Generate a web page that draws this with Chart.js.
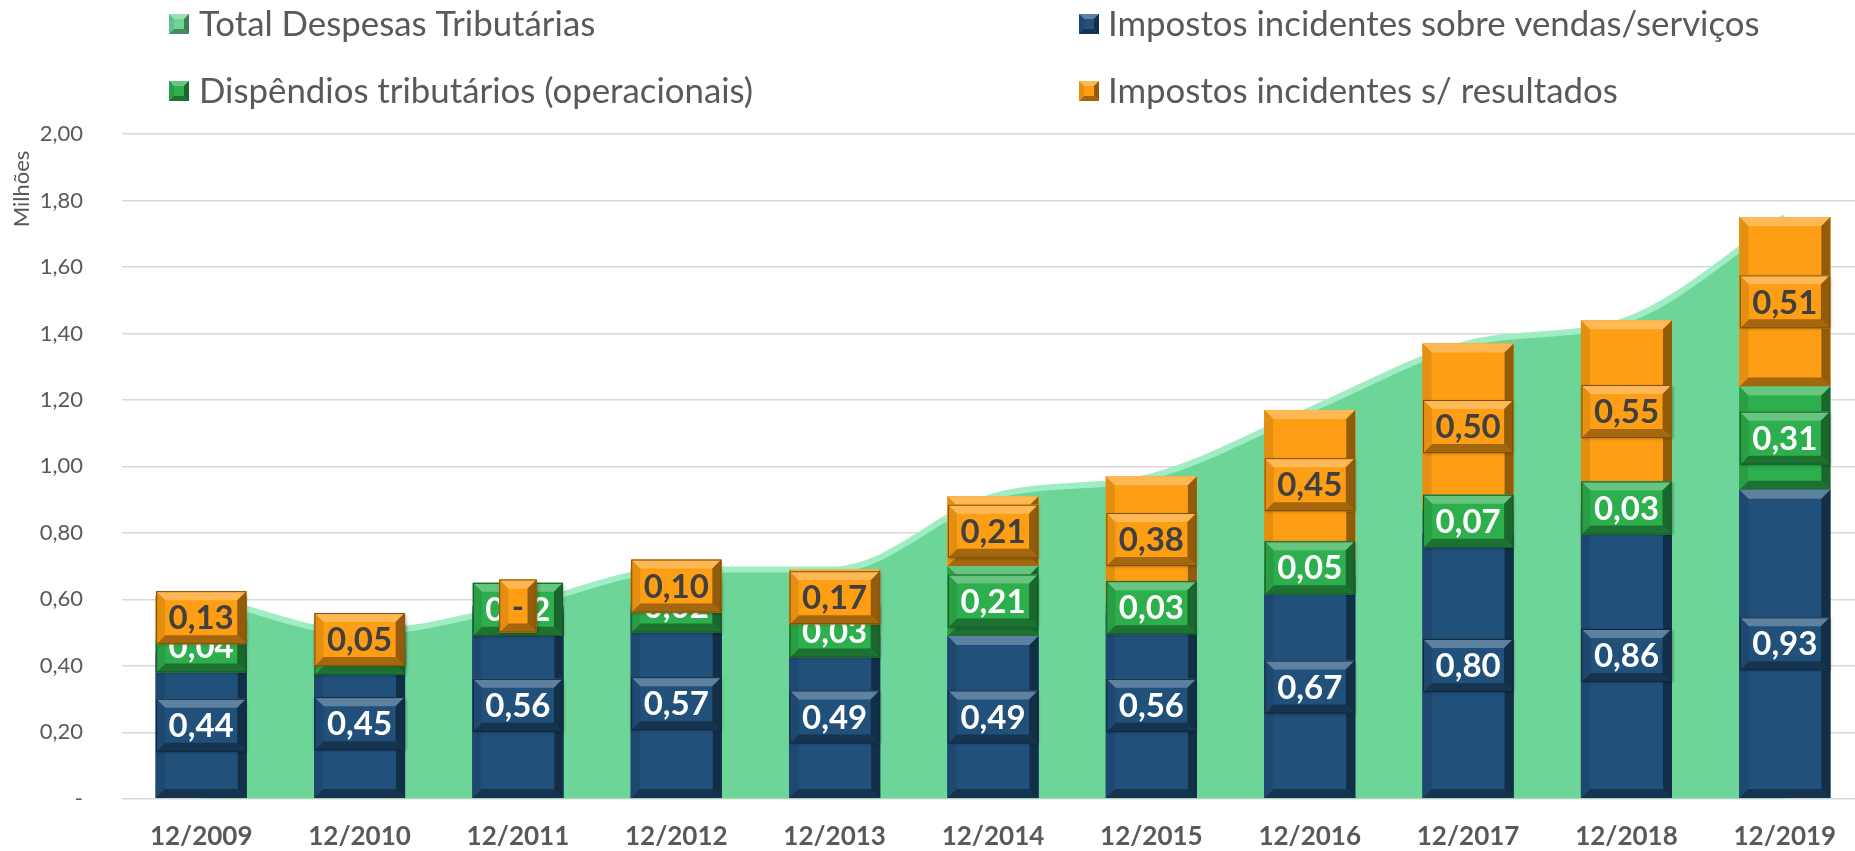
<!DOCTYPE html>
<html>
<head>
<meta charset="utf-8">
<script src="https://cdn.jsdelivr.net/npm/chart.js@4/dist/chart.umd.min.js"></script>
<style>
html,body{margin:0;padding:0;overflow:hidden;background:#ffffff;}
#wrap{position:relative;width:1864px;height:851px;}
</style>
</head>
<body>
<div id="wrap"><canvas id="c" width="1864" height="851"></canvas></div>
<script>
// ---------- data ----------
const categories = ['12/2009','12/2010','12/2011','12/2012','12/2013','12/2014','12/2015','12/2016','12/2017','12/2018','12/2019'];
const vendas      = [0.44, 0.45, 0.56, 0.57, 0.49, 0.49, 0.56, 0.67, 0.80, 0.86, 0.93];
const dispendios  = [0.04, 0.004, 0.02, 0.02, 0.03, 0.21, 0.03, 0.05, 0.07, 0.03, 0.31];
const resultados  = [0.13, 0.05, 0.00, 0.10, 0.17, 0.21, 0.38, 0.45, 0.50, 0.55, 0.51];
const totalDespesas = [0.61, 0.50, 0.58, 0.69, 0.69, 0.91, 0.97, 1.17, 1.37, 1.44, 1.75];
const yTickLabels = ['-', '0,20', '0,40', '0,60', '0,80', '1,00', '1,20', '1,40', '1,60', '1,80', '2,00'];
const seriesNames = {
  total: 'Total Despesas Tributárias',
  vendas: 'Impostos incidentes sobre vendas/serviços',
  disp: 'Dispêndios tributários (operacionais)',
  result: 'Impostos incidentes s/ resultados'
};
const axisTitle = 'Milhões';

// ---------- styles ----------
const COL = {
  total: '#6ED598', totalLine: '#A0EDC4',
  vendas: '#21507B', disp: '#2DAF4D', result: '#FD9E14',
  text: '#595959', grid: '#D9D9D9'
};
const FONT = 'Lato, "Open Sans", sans-serif';

function shade(hex, amt) {
  const n = parseInt(hex.slice(1), 16);
  let r = n >> 16, g = (n >> 8) & 255, b = n & 255;
  const t = amt < 0 ? 0 : 255, p = Math.abs(amt);
  r = Math.round(r + (t - r) * p); g = Math.round(g + (t - g) * p); b = Math.round(b + (t - b) * p);
  return 'rgb(' + r + ',' + g + ',' + b + ')';
}
function facet(ctx, pts, col) {
  ctx.beginPath(); ctx.moveTo(pts[0], pts[1]);
  for (let i = 2; i < pts.length; i += 2) ctx.lineTo(pts[i], pts[i + 1]);
  ctx.closePath(); ctx.fillStyle = col; ctx.fill();
}
function bevelRect(ctx, x, y, w, h, color, d, outline) {
  if (h < 0.5 || w < 0.5) return;
  d = Math.min(d, h / 2, w / 2);
  ctx.fillStyle = color; ctx.fillRect(x, y, w, h);
  facet(ctx, [x, y, x + w, y, x + w - d, y + d, x + d, y + d], shade(color, 0.28));
  facet(ctx, [x, y + h, x + w, y + h, x + w - d, y + h - d, x + d, y + h - d], shade(color, -0.35));
  facet(ctx, [x, y, x + d, y + d, x + d, y + h - d, x, y + h], shade(color, -0.1));
  facet(ctx, [x + w, y, x + w - d, y + d, x + w - d, y + h - d, x + w, y + h], shade(color, -0.42));
  if (outline) {
    ctx.strokeStyle = shade(color, -0.5); ctx.lineWidth = 1;
    ctx.strokeRect(x + 0.5, y + 0.5, w - 1, h - 1);
  }
}
function fmt(v) { return v === 0 ? '-' : v.toFixed(2).replace('.', ','); }

// bevel on every bar segment
const barBevel = {
  id: 'barBevel',
  afterDatasetDraw(chart, args) {
    const ds = chart.data.datasets[args.index];
    if (ds.type === 'line') return;
    const ctx = chart.ctx;
    ctx.save();
    args.meta.data.forEach(el => {
      const p = el.getProps(['x', 'y', 'base', 'width'], true);
      const top = Math.min(p.y, p.base), h = Math.abs(p.base - p.y);
      bevelRect(ctx, p.x - p.width / 2, top, p.width, h, ds.backgroundColor, 9, false);
    });
    ctx.restore();
  }
};

// data labels in bevelled boxes
const segLabels = {
  id: 'segLabels',
  afterDatasetsDraw(chart) {
    const ctx = chart.ctx;
    ctx.save();
    [1, 2, 3].forEach(di => {
      const ds = chart.data.datasets[di];
      const meta = chart.getDatasetMeta(di);
      meta.data.forEach((el, i) => {
        const p = el.getProps(['x', 'y', 'base'], true);
        const txt = fmt(ds.data[i]);
        ctx.font = '700 33px ' + FONT;
        const tw = ctx.measureText(txt).width;
        const bw = tw + 25, bh = 53;
        const cy = (p.y + p.base) / 2;
        ctx.save();
        ctx.shadowColor = 'rgba(0,0,0,0.35)'; ctx.shadowBlur = 3; ctx.shadowOffsetX = 1; ctx.shadowOffsetY = 1;
        ctx.fillStyle = ds.backgroundColor;
        ctx.fillRect(p.x - bw / 2, cy - bh / 2, bw, bh);
        ctx.restore();
        bevelRect(ctx, p.x - bw / 2, cy - bh / 2, bw, bh, ds.backgroundColor, 9, true);
        ctx.fillStyle = ds.labelColor;
        ctx.textAlign = 'center'; ctx.textBaseline = 'middle';
        ctx.fillText(txt, p.x, cy + 1);
      });
    });
    ctx.restore();
  }
};

// legend (2 columns) and rotated axis title
const legendAndTitle = {
  id: 'legendAndTitle',
  afterDraw(chart) {
    const ctx = chart.ctx;
    ctx.save();
    const entries = [
      { text: seriesNames.total, color: COL.total, ix: 169, tx: 199, y: 24 },
      { text: seriesNames.disp, color: COL.disp, ix: 169, tx: 199, y: 91 },
      { text: seriesNames.vendas, color: COL.vendas, ix: 1079, tx: 1108, y: 24 },
      { text: seriesNames.result, color: COL.result, ix: 1079, tx: 1108, y: 91 }
    ];
    ctx.font = '400 100px ' + FONT;
    const s1 = 100 * 398 / ctx.measureText(seriesNames.total).width;
    const s2 = 100 * 647 / ctx.measureText(seriesNames.vendas).width;
    const size = (s1 + s2) / 2;
    entries.forEach(e => {
      bevelRect(ctx, e.ix, e.y - 10, 20, 20, e.color, 5, false);
      ctx.font = '400 ' + size.toFixed(1) + 'px ' + FONT;
      ctx.fillStyle = COL.text; ctx.textAlign = 'left'; ctx.textBaseline = 'middle';
      ctx.fillText(e.text, e.tx, e.y + 1);
    });
    ctx.translate(22, 189);
    ctx.rotate(-Math.PI / 2);
    ctx.font = '400 22px ' + FONT;
    ctx.fillStyle = COL.text; ctx.textAlign = 'center'; ctx.textBaseline = 'middle';
    ctx.fillText(axisTitle, 0, 0);
    ctx.restore();
  }
};

function build() {
  new Chart(document.getElementById('c'), {
    data: {
      labels: categories,
      datasets: [
        { type: 'line', label: seriesNames.total, data: totalDespesas, stack: 'total', order: 2,
          fill: 'origin', backgroundColor: COL.total, borderColor: COL.totalLine, borderWidth: 6,
          pointRadius: 0, cubicInterpolationMode: 'monotone' },
        { type: 'bar', label: seriesNames.vendas, data: vendas, stack: 'bars', order: 1,
          backgroundColor: COL.vendas, labelColor: '#FFFFFF', borderWidth: 0,
          categoryPercentage: 1, barPercentage: 0.575 },
        { type: 'bar', label: seriesNames.disp, data: dispendios, stack: 'bars', order: 1,
          backgroundColor: COL.disp, labelColor: '#FFFFFF', borderWidth: 0,
          categoryPercentage: 1, barPercentage: 0.575 },
        { type: 'bar', label: seriesNames.result, data: resultados, stack: 'bars', order: 1,
          backgroundColor: COL.result, labelColor: '#404040', borderWidth: 0,
          categoryPercentage: 1, barPercentage: 0.575 }
      ]
    },
    options: {
      responsive: false,
      animation: false,
      devicePixelRatio: 1,
      layout: { padding: { top: 134, left: 0, right: 0, bottom: 0 } },
      plugins: { legend: { display: false }, tooltip: { enabled: false } },
      scales: {
        x: {
          stacked: true,
          grid: { display: false, drawTicks: false },
          border: { display: false },
          ticks: { color: COL.text, font: { family: FONT, size: 26, weight: 'bold' }, padding: 22, maxRotation: 0 },
          afterFit(s) { s.height = 50; }
        },
        y: {
          stacked: true, min: 0, max: 2,
          grid: { color: COL.grid, lineWidth: 1.5, drawTicks: false },
          border: { display: false },
          ticks: { stepSize: 0.2, color: COL.text, font: { family: FONT, size: 22 }, padding: 39,
                   callback: (v, i) => yTickLabels[i] },
          afterFit(s) { s.width = 122; }
        }
      }
    },
    plugins: [barBevel, segLabels, legendAndTitle]
  });
}

Promise.all(['400 22px Lato', '700 33px Lato', '700 26px Lato'].map(f => document.fonts.load(f)))
  .catch(() => {}).then(build);
</script>
</body>
</html>
